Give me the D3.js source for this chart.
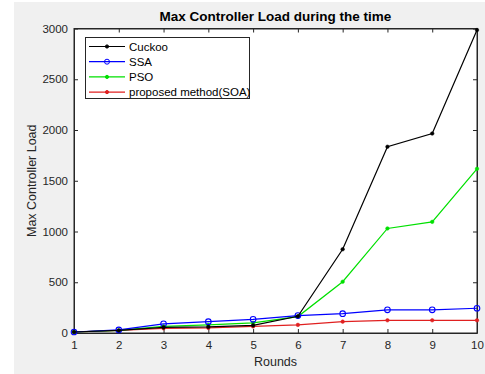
<!DOCTYPE html>
<html><head><meta charset="utf-8">
<script src="https://cdn.jsdelivr.net/npm/d3@7"></script>
<style>body{margin:0;background:#fff}svg{display:block}text{font-family:Arial,"Liberation Sans",sans-serif}</style>
</head><body>
<svg id="c" width="485" height="374"></svg>
<script>
const rounds = [1,2,3,4,5,6,7,8,9,10];
const cuckoo = [10,25,55,60,75,165,825,1835,1965,2985];
const ssa = [10,30,90,112,135,172,190,228,228,244];
const pso = [10,25,65,80,100,162,505,1030,1095,1617];
const soa = [10,25,46,50,65,80,112,125,125,125];
const seriesNames = ["Cuckoo","SSA","PSO","proposed method(SOA)"];
const yTicks = [0,500,1000,1500,2000,2500,3000];

const svg = d3.select("#c");
svg.append("rect").attr("x",14).attr("y",2).attr("width",471).attr("height",372).attr("fill","#f0f0f0");
const L=74,R=477,T=28.5,B=333;
const x = d3.scaleLinear().domain([1,10]).range([L,R]);
const y = d3.scaleLinear().domain([0,3000]).range([B,T]);
svg.append("rect").attr("x",L).attr("y",T).attr("width",R-L).attr("height",B-T).attr("fill","#fff");

const tl = 4;
const gx = svg.append("g").attr("transform",`translate(0,${B})`)
  .call(d3.axisBottom(x).tickValues(rounds).tickFormat(d3.format("d")).tickSizeInner(-tl).tickSizeOuter(0).tickPadding(8));
const gxt = svg.append("g").attr("transform",`translate(0,${T})`)
  .call(d3.axisTop(x).tickValues(rounds).tickFormat("").tickSizeInner(-tl).tickSizeOuter(0));
const gy = svg.append("g").attr("transform",`translate(${L},0)`)
  .call(d3.axisLeft(y).tickValues(yTicks).tickFormat(d3.format("d")).tickSizeInner(-tl).tickSizeOuter(0).tickPadding(6));
const gyr = svg.append("g").attr("transform",`translate(${R},0)`)
  .call(d3.axisRight(y).tickValues(yTicks).tickFormat("").tickSizeInner(-tl).tickSizeOuter(0));
[gx,gxt,gy,gyr].forEach(g=>{
  g.select(".domain").attr("stroke","#262626");
  g.selectAll(".tick line").attr("stroke","#262626");
  g.selectAll("text").attr("fill","#262626").style("font-size","11.5px").style("font-family","Arial, 'Liberation Sans', sans-serif");
});
svg.append("rect").attr("x",L).attr("y",T).attr("width",R-L).attr("height",B-T).attr("fill","none").attr("stroke","#262626").attr("stroke-width",1);

const series = [
  {name:seriesNames[0], vals:cuckoo, color:"#000000", marker:"dot"},
  {name:seriesNames[1], vals:ssa, color:"#0000ff", marker:"circle"},
  {name:seriesNames[2], vals:pso, color:"#00e000", marker:"dot"},
  {name:seriesNames[3], vals:soa, color:"#e02020", marker:"dot"}
];
const line = d3.line().x((d,i)=>x(rounds[i])).y(d=>y(d));
const order = [3,2,1,0];
order.forEach(k=>{
  const s = series[k];
  svg.append("path").datum(s.vals).attr("d",line).attr("fill","none").attr("stroke",s.color).attr("stroke-width",1.2);
  svg.selectAll(null).data(s.vals).enter().append("circle")
    .attr("cx",(d,i)=>x(rounds[i])).attr("cy",d=>y(d))
    .attr("r",s.marker==="circle"?2.8:1.8)
    .attr("fill",s.marker==="circle"?"none":s.color)
    .attr("stroke",s.color).attr("stroke-width",s.marker==="circle"?1.1:0.5);
});

// legend
const lg = svg.append("g");
lg.append("rect").attr("x",85.5).attr("y",37.5).attr("width",164).attr("height",61).attr("fill","#fff").attr("stroke","#262626").attr("stroke-width",1);
series.forEach((s,i)=>{
  const yy = 46.5 + i*15.2;
  lg.append("line").attr("x1",89).attr("x2",125).attr("y1",yy).attr("y2",yy).attr("stroke",s.color).attr("stroke-width",1.2);
  lg.append("circle").attr("cx",107).attr("cy",yy).attr("r",s.marker==="circle"?2.5:1.6)
    .attr("fill",s.marker==="circle"?"none":s.color).attr("stroke",s.color).attr("stroke-width",1);
  lg.append("text").attr("x",129).attr("y",yy+4).style("font-size","11.5px").attr("fill","#000").text(s.name);
});

svg.append("text").attr("x",(L+R)/2).attr("y",21).attr("text-anchor","middle")
  .style("font-size","13.5px").style("font-weight","bold").attr("fill","#000").text("Max Controller Load during the time");
svg.append("text").attr("x",(L+R)/2).attr("y",366).attr("text-anchor","middle")
  .style("font-size","12.5px").attr("fill","#262626").text("Rounds");
svg.append("text").attr("transform",`translate(36,${(T+B)/2}) rotate(-90)`).attr("text-anchor","middle")
  .style("font-size","12.5px").attr("fill","#262626").text("Max Controller Load");
</script>
</body></html>
